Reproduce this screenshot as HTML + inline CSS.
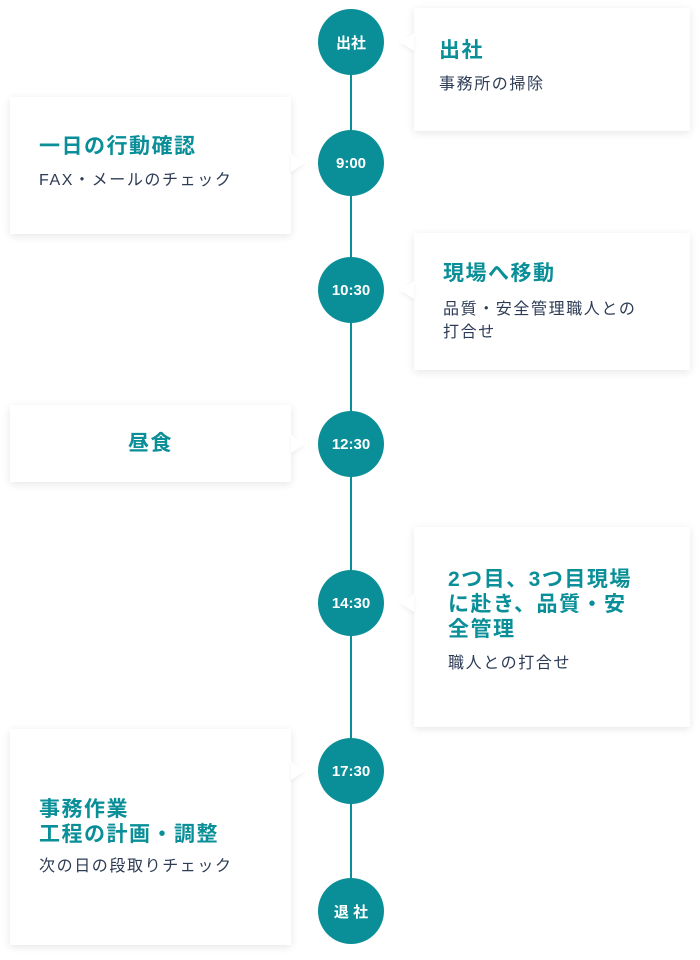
<!DOCTYPE html>
<html><head><meta charset="utf-8"><style>
*{margin:0;padding:0;box-sizing:border-box}
body{width:700px;height:960px;background:#fff;position:relative;overflow:hidden;font-family:"Liberation Sans","Noto Sans CJK JP",sans-serif}
.line{position:absolute;left:350px;top:42px;width:2px;height:870px;background:#0a8f98}
.c{position:absolute;width:66px;height:66px;border-radius:50%;background:#0a8f98;color:#fff;font-weight:bold;font-size:15px;display:flex;align-items:center;justify-content:center;left:318px}
.card{position:absolute;background:#fff;box-shadow:0 2px 8px rgba(0,0,0,0.10)}
.card.r{left:414px;width:276px}
.card.l{left:10px;width:281px}
.p{position:absolute;width:0;height:0;border-top:9px solid transparent;border-bottom:9px solid transparent;filter:drop-shadow(0 2px 2px rgba(0,0,0,0.06))}
.r .p{left:-14px;border-right:14px solid #fff}
.l .p{right:-14px;border-left:14px solid #fff}
h3{color:#0a8f98;font-size:21px;font-weight:bold;line-height:25px;letter-spacing:1.5px}
p{color:#2d3b55;font-size:16px;line-height:23px;margin-top:10px;letter-spacing:1.6px}
</style></head><body>
<div class="line"></div>

<div class="card r" style="top:8px;height:123px;padding:30px 25px">
<div class="p" style="top:25px"></div><h3>出社</h3><p>事務所の掃除</p></div>

<div class="card l" style="top:97px;height:137px;padding:37px 29px">
<div class="p" style="top:57px"></div><h3>一日の行動確認</h3><p>FAX・メールのチェック</p></div>

<div class="card r" style="top:233px;height:137px;padding:28px 29px">
<div class="p" style="top:48px"></div><h3>現場へ移動</h3><p style="margin-top:12px">品質・安全管理職人との<br>打合せ</p></div>

<div class="card l" style="top:405px;height:77px;padding:26px 0;text-align:center">
<div class="p" style="top:30px"></div><h3>昼食</h3></div>

<div class="card r" style="top:527px;height:200px;padding:40px 34px">
<div class="p" style="top:67px"></div><h3>2つ目、3つ目現場<br>に赴き、品質・安<br>全管理</h3><p style="margin-top:10px">職人との打合せ</p></div>

<div class="card l" style="top:729px;height:216px;padding:68px 29px">
<div class="p" style="top:33px"></div><h3>事務作業<br>工程の計画・調整</h3><p style="margin-top:8px">次の日の段取りチェック</p></div>

<div class="c" style="top:9px">出社</div>
<div class="c" style="top:130px">9:00</div>
<div class="c" style="top:257px">10:30</div>
<div class="c" style="top:411px">12:30</div>
<div class="c" style="top:570px">14:30</div>
<div class="c" style="top:738px">17:30</div>
<div class="c" style="top:878px">退 社</div>
</body></html>
